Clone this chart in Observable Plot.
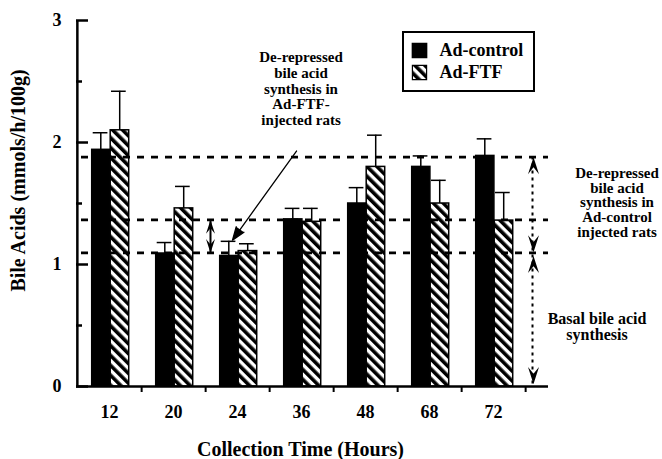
<!DOCTYPE html>
<html>
<head>
<meta charset="utf-8">
<script src="https://cdn.jsdelivr.net/npm/d3@7"></script>
<script src="https://cdn.jsdelivr.net/npm/@observablehq/plot@0.6"></script>
<style>
  html, body { margin: 0; padding: 0; background: white; }
  #chart { position: relative; width: 662px; height: 459px; }
</style>
</head>
<body>
<svg width="0" height="0" style="position:absolute">
  <defs>
    <pattern id="hatch" patternUnits="userSpaceOnUse" width="7" height="7" patternTransform="rotate(-45)">
      <rect width="7" height="7" fill="white"></rect>
      <rect width="3.6" height="7" fill="black"></rect>
    </pattern>
  </defs>
</svg>
<div id="chart"></div>
<script>
// ---- data ----
const times = ["12", "20", "24", "36", "48", "68", "72"];
const controlMean = [1.94, 1.09, 1.07, 1.37, 1.50, 1.80, 1.89];
const controlErr  = [0.14, 0.09, 0.12, 0.09, 0.13, 0.09, 0.14];
const ftfMean     = [2.10, 1.46, 1.11, 1.35, 1.80, 1.50, 1.36];
const ftfErr      = [0.32, 0.18, 0.06, 0.11, 0.26, 0.19, 0.23];
const seriesNames = ["Ad-control", "Ad-FTF"];
const yTicks = [0, 1, 2, 3];
const yMinorTicks = [0.5, 1.5, 2.5];
const dashedLevels = [1.88, 1.365, 1.095];
const yTitle = "Bile Acids (mmols/h/100g)";
const xTitle = "Collection Time (Hours)";
const annoFTF = "De-repressed\nbile acid\nsynthesis in\nAd-FTF-\ninjected rats";
const annoControl = "De-repressed\nbile acid\nsynthesis in\nAd-control\ninjected rats";
const annoBasal = "Basal bile acid\nsynthesis";
// annotation arrow anchors (data space)
const arrowStart = {time: "36", value: 1.93};
const arrowEnd = {time: "24", value: 1.20};
const smallArrowRange = [1.365, 1.095];
const upperRange = [1.88, 1.10];
const lowerRange = [1.07, 0.02];

const control = times.map((t, i) => ({time: t, mean: controlMean[i], hi: controlMean[i] + controlErr[i]}));
const ftf = times.map((t, i) => ({time: t, mean: ftfMean[i], hi: ftfMean[i] + ftfErr[i]}));

// ---- layout ----
const W = 662, H = 459, mL = 76, mR = 114, mT = 20, mB = 73;
const frameW = W - mL - mR;
const xR = [76, 526];
const bw = (xR[1] - xR[0]) / times.length;
const serif = "'Liberation Serif', 'Times New Roman', Times, serif";

function head(dir, len, half) {
  return {
    draw(ctx, size) {
      const k = Math.sqrt(size / Math.PI) / 8;
      const L = dir * len * k, w = half * k;
      ctx.moveTo(0, 0);
      ctx.lineTo(w, L);
      ctx.lineTo(0, L * 0.6);
      ctx.lineTo(-w, L);
      ctx.closePath();
    }
  };
}
const upHead = head(1, 17, 5.5);
const downHead = head(-1, 17, 5.5);

const chart = Plot.plot({
  width: W, height: H,
  marginLeft: mL, marginRight: mR, marginTop: mT, marginBottom: mB,
  style: {fontFamily: serif, fontWeight: "bold", fontSize: "18px", background: "white", overflow: "visible", color: "black"},
  x: {type: "band", domain: times, range: xR, padding: 0},
  y: {domain: [0, 3], range: [386, 20]},
  marks: [
    // bars
    Plot.barY(control, {x: "time", y: "mean", fill: "black", stroke: "black", strokeWidth: 1.5, insetLeft: 14.7, insetRight: bw - 33.2}),
    Plot.barY(ftf, {x: "time", y: "mean", fill: "url(#hatch)", stroke: "black", strokeWidth: 1.5, insetLeft: 33.2, insetRight: bw - 52}),
    // error bars (upper only)
    Plot.ruleX(control, {x: "time", y1: "mean", y2: "hi", dx: -8.7, strokeWidth: 1.5}),
    Plot.tickY(control, {x: "time", y: "hi", insetLeft: 15.7, insetRight: bw - 30.7, strokeWidth: 1.5}),
    Plot.ruleX(ftf, {x: "time", y1: "mean", y2: "hi", dx: 10.2, strokeWidth: 1.5}),
    Plot.tickY(ftf, {x: "time", y: "hi", insetLeft: 34, insetRight: bw - 49, strokeWidth: 1.5}),
    // dashed reference levels
    Plot.ruleY(dashedLevels, {strokeWidth: 2.8, strokeDasharray: "7,7", strokeDashoffset: -5}),
    // axes lines and ticks
    Plot.ruleY([yTicks[0]], {strokeWidth: 2.5}),
    Plot.ruleX([times[0]], {dx: -bw / 2, y1: yTicks[0], y2: yTicks[yTicks.length - 1], strokeWidth: 2.5}),
    Plot.tickY(yTicks, {insetRight: frameW - 12, strokeWidth: 2.5}),
    Plot.tickY(yMinorTicks, {insetRight: frameW - 6, strokeWidth: 2.5}),
    Plot.tickX(times, {dx: bw / 2, insetTop: 386 - mT, insetBottom: -6, strokeWidth: 2}),
    Plot.axisX({tickSize: 0, tickPadding: 19, label: null, fontSize: 18}),
    Plot.axisY({ticks: yTicks, tickFormat: d => String(d), tickSize: 0, tickPadding: 15, label: null, fontSize: 18}),
    // titles
    Plot.text([yTitle], {text: d => d, frameAnchor: "left", textAnchor: "middle", lineAnchor: "middle", rotate: -90, dx: -58, dy: -23, fontSize: 20, fontWeight: "bold"}),
    Plot.text([xTitle], {text: d => d, frameAnchor: "bottom", textAnchor: "middle", lineAnchor: "middle", dx: -12, dy: 63, fontSize: 20, fontWeight: "bold"}),
    // annotation arrow
    Plot.arrow([arrowStart], {x1: "time", y1: "value", x2: () => arrowEnd.time, y2: () => arrowEnd.value, dx: -5, stroke: "black", strokeWidth: 1.3, headLength: 16, headAngle: 40, fill: "black"}),
    // small double arrow near 24 h
    Plot.ruleX([arrowEnd.time], {dx: -27, y1: () => smallArrowRange[0], y2: () => smallArrowRange[1], strokeWidth: 2}),
    Plot.dot([smallArrowRange[0]], {x: () => arrowEnd.time, y: d => d, dx: -27, symbol: upHead, r: 6.5, fill: "black", stroke: "none"}),
    Plot.dot([smallArrowRange[1]], {x: () => arrowEnd.time, y: d => d, dx: -27, symbol: downHead, r: 6.5, fill: "black", stroke: "none"}),
    // right dotted double arrows
    Plot.ruleX([times[times.length - 1]], {dx: 39, y1: () => lowerRange[1], y2: () => upperRange[0], strokeWidth: 2, strokeDasharray: "3,4"}),
    Plot.dot([upperRange[0], lowerRange[0]], {y: d => d, frameAnchor: "right", dx: -15, symbol: upHead, r: 8, fill: "black", stroke: "none"}),
    Plot.dot([upperRange[1], lowerRange[1]], {y: d => d, frameAnchor: "right", dx: -15, symbol: downHead, r: 8, fill: "black", stroke: "none"}),
    // annotation texts
    Plot.text([annoFTF], {text: d => d, frameAnchor: "top-left", textAnchor: "middle", lineAnchor: "middle", dx: 224.5, dy: 68, fontSize: 15, lineHeight: 1.04, fontWeight: "bold"}),
    Plot.text([annoControl], {text: d => d, frameAnchor: "top-right", textAnchor: "middle", lineAnchor: "middle", dx: 68.5, dy: 182, fontSize: 15, lineHeight: 0.98, fontWeight: "bold"}),
    Plot.text([annoBasal], {text: d => d, frameAnchor: "top-right", textAnchor: "middle", lineAnchor: "middle", dx: 48.5, dy: 306, fontSize: 16, lineHeight: 1.0, fontWeight: "bold"}),
    // legend
    Plot.rect([seriesNames], {insetLeft: 327, insetRight: 14, insetTop: 12, insetBottom: 386 - mT - 71, fill: "white", stroke: "black", strokeWidth: 2}),
    Plot.dot([seriesNames[0]], {frameAnchor: "top-left", dx: 343, dy: 30, symbol: "square", r: 8, fill: "black", stroke: "black"}),
    Plot.dot([seriesNames[1]], {frameAnchor: "top-left", dx: 343, dy: 52, symbol: "square", r: 8, fill: "url(#hatch)", stroke: "black", strokeWidth: 1.2}),
    Plot.text([seriesNames[0]], {text: d => d, frameAnchor: "top-left", textAnchor: "start", lineAnchor: "middle", dx: 363, dy: 30, fontSize: 18, fontWeight: "bold"}),
    Plot.text([seriesNames[1]], {text: d => d, frameAnchor: "top-left", textAnchor: "start", lineAnchor: "middle", dx: 363, dy: 52, fontSize: 18, fontWeight: "bold"})
  ]
});
document.getElementById("chart").appendChild(chart);
</script>
</body>
</html>
